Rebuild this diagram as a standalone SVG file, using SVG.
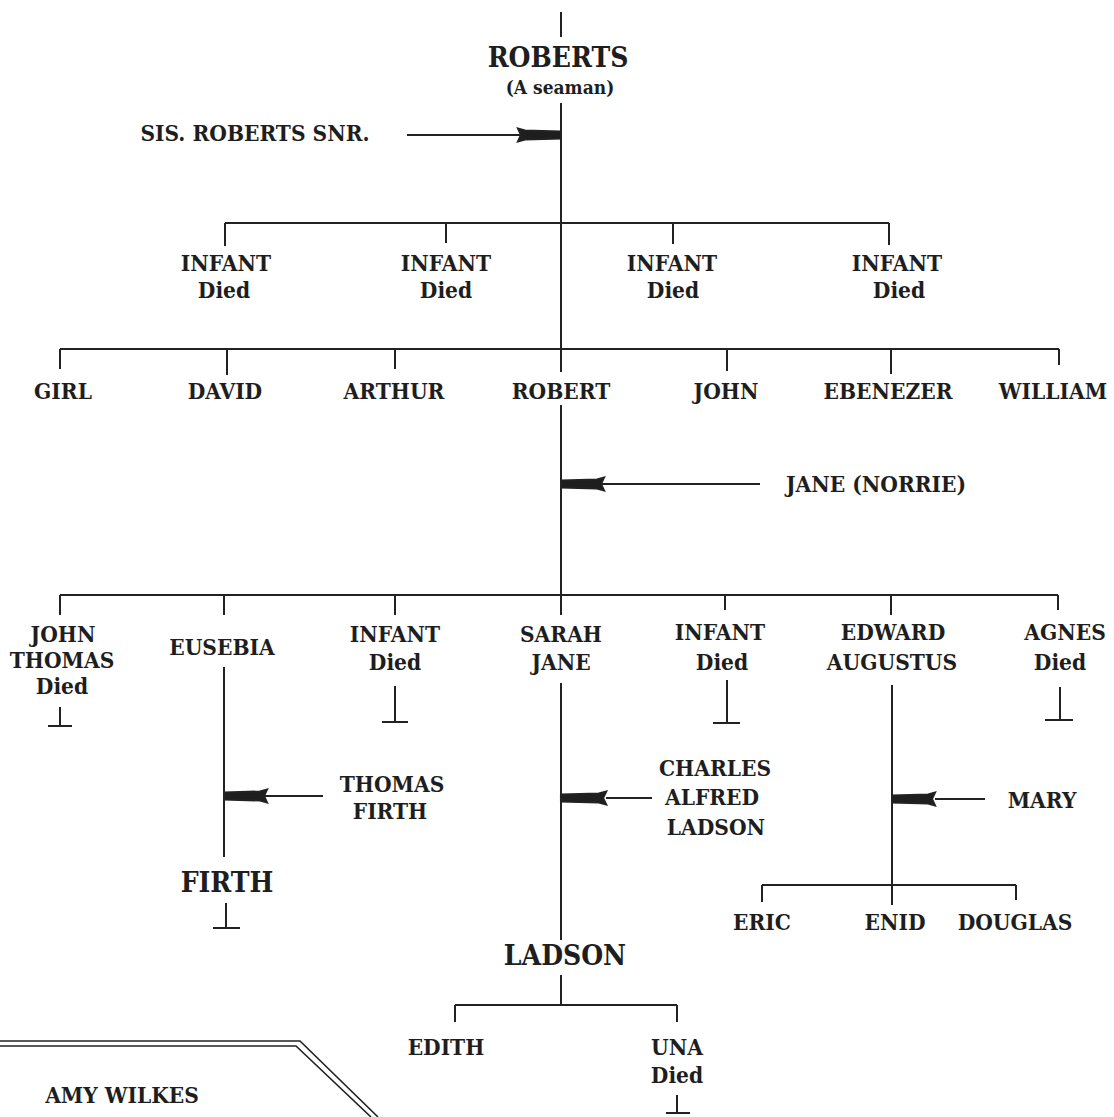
<svg xmlns="http://www.w3.org/2000/svg" width="1114" height="1117" viewBox="0 0 1114 1117">
<style>
text{font-family:"DejaVu Serif","Liberation Serif",serif;font-weight:bold;font-stretch:condensed;fill:#1e1e1e;text-anchor:middle}
.r{font-size:22.5px}
.b{font-size:28px}
.s{font-size:19px}
.ln{stroke:#222;stroke-width:2;fill:none}
.dbl{stroke:#222;stroke-width:1.6;fill:none}
</style>
<defs>
<path id="ah" d="M0,-3.5 L36,-4.5 L43,-6.5 L40,0 L43,6.5 L36,4.5 L0,3.5 Z" fill="#1e1e1e"/>
</defs>
<rect width="1114" height="1117" fill="#ffffff"/>
<g id="connectors" class="ln">
<path d="M561,12V37 M561,103V372 M561,405V615 M561,683V940 M561,975V1005"/>
<path d="M225,223H889 M225,223V246 M446,223V243 M673,223V244 M889,223V245"/>
<path d="M60,349H1059 M60,349V369 M227,349V375 M395,349V369 M727,349V371 M891,349V374 M1059,349V365"/>
<path d="M60,595H1058 M60,595V615 M224,595V615 M395,595V615 M725,595V610 M891,595V615 M1058,595V610"/>
<path d="M60,707V726 M48,726H72 M395,686V722 M382,722H408 M727,680V723 M713,723H740 M1060,687V720 M1045,720H1073 M226,903V928 M213,928H240 M677,1095V1113 M666,1113H690"/>
<path d="M224,667V857 M892,685V905 M762,885H1016 M762,885V902 M1016,885V900 M455,1005H677 M455,1005V1022 M677,1005V1022"/>
<path d="M407,135H520 M600,484H760 M265,796H323 M606,798H652 M935,799H985"/>
<use href="#ah" transform="translate(561,135) scale(-1,1)"/>
<use href="#ah" transform="translate(561,484)"/>
<use href="#ah" transform="translate(224,796)"/>
<use href="#ah" transform="translate(561,798) scale(1.05,1)"/>
<use href="#ah" transform="translate(892,799)"/>
<polyline class="dbl" points="0,1041 300,1041 378,1117"/>
<polyline class="dbl" points="0,1046 296,1046 371,1117"/>
</g>
<g id="roberts"><text class="b" x="558" y="67">ROBERTS</text><text class="s" x="560" y="94">(A seaman)</text></g>
<g id="sis-roberts-snr"><text class="r" x="255" y="141">SIS. ROBERTS SNR.</text></g>
<g id="infant1"><text class="r" x="226" y="271">INFANT</text><text class="r" x="224" y="298">Died</text></g>
<g id="infant2"><text class="r" x="446" y="271">INFANT</text><text class="r" x="446" y="298">Died</text></g>
<g id="infant3"><text class="r" x="672" y="271">INFANT</text><text class="r" x="673" y="298">Died</text></g>
<g id="infant4"><text class="r" x="897" y="271">INFANT</text><text class="r" x="899" y="298">Died</text></g>
<g id="girl"><text class="r" x="63" y="399">GIRL</text></g>
<g id="david"><text class="r" x="225" y="399">DAVID</text></g>
<g id="arthur"><text class="r" x="394" y="399">ARTHUR</text></g>
<g id="robert"><text class="r" x="561" y="399">ROBERT</text></g>
<g id="john"><text class="r" x="726" y="399">JOHN</text></g>
<g id="ebenezer"><text class="r" x="888" y="399">EBENEZER</text></g>
<g id="william"><text class="r" x="1053" y="399">WILLIAM</text></g>
<g id="jane-norrie"><text class="r" x="876" y="492">JANE (NORRIE)</text></g>
<g id="john-thomas"><text class="r" x="63" y="642">JOHN</text><text class="r" x="62" y="668">THOMAS</text><text class="r" x="62" y="694">Died</text></g>
<g id="eusebia"><text class="r" x="222" y="655">EUSEBIA</text></g>
<g id="infant5"><text class="r" x="395" y="642">INFANT</text><text class="r" x="395" y="670">Died</text></g>
<g id="sarah-jane"><text class="r" x="561" y="642">SARAH</text><text class="r" x="561" y="670">JANE</text></g>
<g id="infant6"><text class="r" x="720" y="640">INFANT</text><text class="r" x="722" y="670">Died</text></g>
<g id="edward-augustus"><text class="r" x="893" y="640">EDWARD</text><text class="r" x="892" y="670">AUGUSTUS</text></g>
<g id="agnes"><text class="r" x="1065" y="640">AGNES</text><text class="r" x="1060" y="670">Died</text></g>
<g id="thomas-firth"><text class="r" x="392" y="792">THOMAS</text><text class="r" x="390" y="819">FIRTH</text></g>
<g id="charles-alfred-ladson"><text class="r" x="715" y="776">CHARLES</text><text class="r" x="712" y="805">ALFRED</text><text class="r" x="716" y="835">LADSON</text></g>
<g id="mary"><text class="r" x="1042" y="808">MARY</text></g>
<g id="firth"><text class="b" x="227" y="892">FIRTH</text></g>
<g id="eric"><text class="r" x="762" y="930">ERIC</text></g>
<g id="enid"><text class="r" x="895" y="930">ENID</text></g>
<g id="douglas"><text class="r" x="1015" y="930">DOUGLAS</text></g>
<g id="ladson"><text class="b" x="565" y="965">LADSON</text></g>
<g id="edith"><text class="r" x="446" y="1055">EDITH</text></g>
<g id="una"><text class="r" x="677" y="1055">UNA</text><text class="r" x="677" y="1083">Died</text></g>
<g id="amy-wilkes"><text class="r" x="122" y="1103">AMY WILKES</text></g>
</svg>
